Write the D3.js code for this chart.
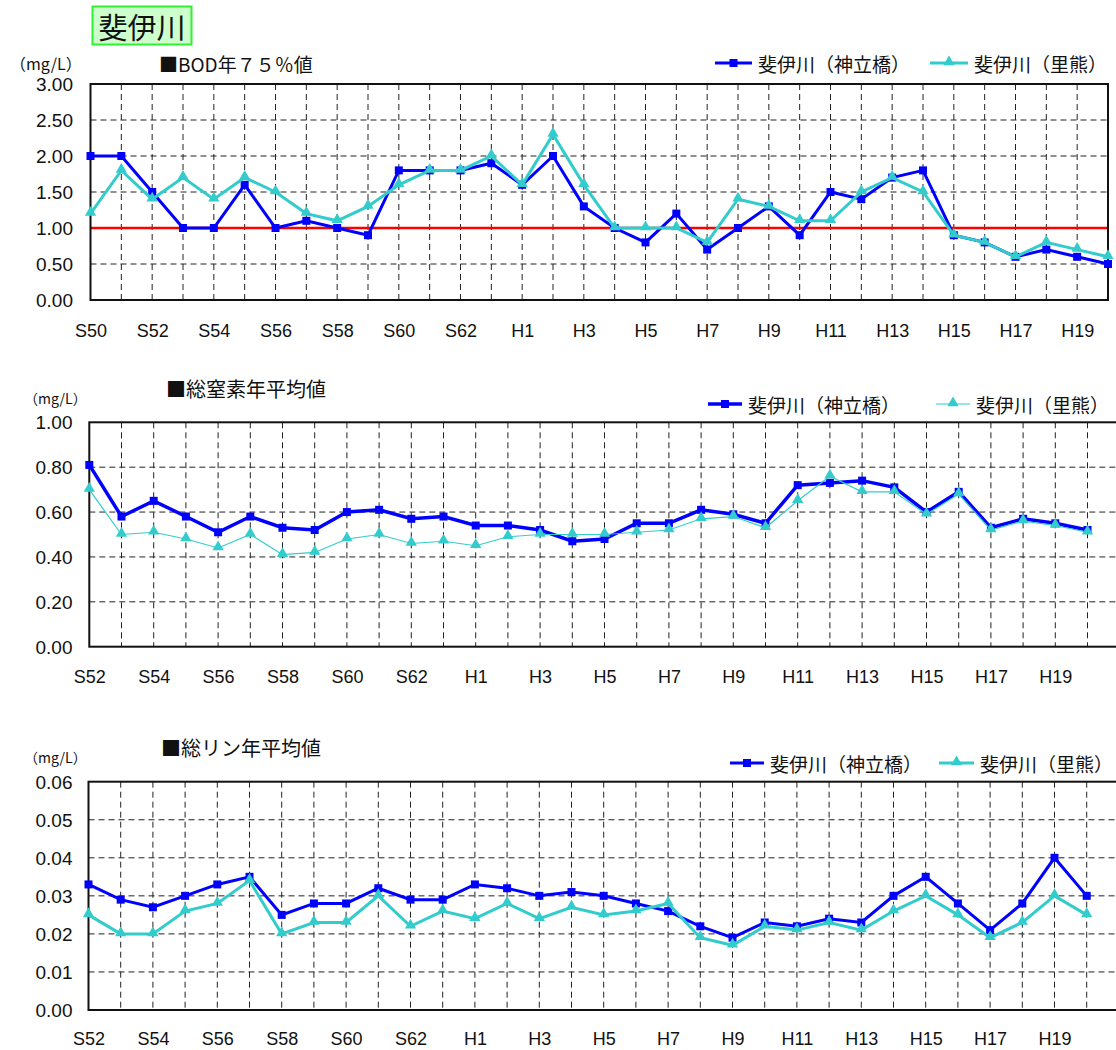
<!DOCTYPE html>
<html><head><meta charset="utf-8">
<script src="https://cdn.jsdelivr.net/npm/d3@7"></script>
<style>
body{margin:0;background:#fff;}
svg{display:block;}
</style></head>
<body>
<svg id="c" width="1116" height="1050"></svg>
<script>
// ---- Data ----
const categoriesBOD = ["S50","S51","S52","S53","S54","S55","S56","S57","S58","S59","S60","S61","S62","S63",
  "H1","H2","H3","H4","H5","H6","H7","H8","H9","H10","H11","H12","H13","H14","H15","H16","H17","H18","H19","H20"];
const categoriesNP = ["S52","S53","S54","S55","S56","S57","S58","S59","S60","S61","S62","S63",
  "H1","H2","H3","H4","H5","H6","H7","H8","H9","H10","H11","H12","H13","H14","H15","H16","H17","H18","H19","H20"];
const tickLabelsBOD = ["S50","S52","S54","S56","S58","S60","S62","H1","H3","H5","H7","H9","H11","H13","H15","H17","H19"];
const tickLabelsNP = ["S52","S54","S56","S58","S60","S62","H1","H3","H5","H7","H9","H11","H13","H15","H17","H19"];

const bodKandachi = [2.0,2.0,1.5,1.0,1.0,1.6,1.0,1.1,1.0,0.9,1.8,1.8,1.8,1.9,1.6,2.0,1.3,1.0,0.8,1.2,0.7,1.0,1.3,0.9,1.5,1.4,1.7,1.8,0.9,0.8,0.6,0.7,0.6,0.5];
const bodSatokuma = [1.2,1.8,1.4,1.7,1.4,1.7,1.5,1.2,1.1,1.3,1.6,1.8,1.8,2.0,1.6,2.3,1.6,1.0,1.0,1.0,0.8,1.4,1.3,1.1,1.1,1.5,1.7,1.5,0.9,0.8,0.6,0.8,0.7,0.6];
const tnKandachi = [0.81,0.58,0.65,0.58,0.51,0.58,0.53,0.52,0.60,0.61,0.57,0.58,0.54,0.54,0.52,0.47,0.48,0.55,0.55,0.61,0.59,0.55,0.72,0.73,0.74,0.71,0.60,0.69,0.53,0.57,0.55,0.52];
const tnSatokuma = [0.70,0.50,0.51,0.48,0.44,0.50,0.41,0.42,0.48,0.50,0.46,0.47,0.45,0.49,0.50,0.50,0.50,0.51,0.52,0.57,0.58,0.53,0.65,0.76,0.69,0.69,0.59,0.68,0.52,0.56,0.54,0.51];
const tpKandachi = [0.033,0.029,0.027,0.030,0.033,0.035,0.025,0.028,0.028,0.032,0.029,0.029,0.033,0.032,0.030,0.031,0.030,0.028,0.026,0.022,0.019,0.023,0.022,0.024,0.023,0.030,0.035,0.028,0.021,0.028,0.040,0.030];
const tpSatokuma = [0.025,0.020,0.020,0.026,0.028,0.034,0.020,0.023,0.023,0.030,0.022,0.026,0.024,0.028,0.024,0.027,0.025,0.026,0.028,0.019,0.017,0.022,0.021,0.023,0.021,0.026,0.030,0.025,0.019,0.023,0.030,0.025];

const seriesNames = ["斐伊川（神立橋）","斐伊川（里熊）"];
const riverName = "斐伊川";
const bodTicks = [0,0.5,1.0,1.5,2.0,2.5,3.0];
const tnTicks = [0,0.2,0.4,0.6,0.8,1.0];
const tpTicks = [0,0.01,0.02,0.03,0.04,0.05,0.06];
const bodStandard = 1.0;

// ---- Styles ----
const BLUE = "#0000ff", CYAN = "#33cccc", RED = "#ff0000";
const LATIN = "'Liberation Sans', Arial, 'Noto Sans CJK JP', sans-serif";
const CJK = "'Noto Sans CJK JP', sans-serif";

const svg = d3.select("#c");

// title box
svg.append("rect").attr("x",92.5).attr("y",6.5).attr("width",99).attr("height",38)
  .attr("fill","#ccffcc").attr("stroke","#33ee33").attr("stroke-width",2);
svg.append("text").attr("x",142).attr("y",26).attr("text-anchor","middle").attr("dominant-baseline","central")
  .attr("font-family",CJK).attr("font-size",29).attr("fill","#111").text(riverName);

function chart(o){
  const g = svg.append("g");
  const x = d3.scaleLinear().domain([0, o.slots]).range([o.left, o.right]);
  const y = d3.scaleLinear().domain([0, o.ymax]).range([o.bottom, o.top]);

  g.selectAll(".hg").data(o.yticks.slice(1, -1)).join("line")
    .attr("x1",o.left).attr("x2",o.right).attr("y1",d=>y(d)).attr("y2",d=>y(d))
    .attr("stroke","#222").attr("stroke-width",1).attr("stroke-dasharray","6,4");
  g.selectAll(".vg").data(d3.range(1, o.slots)).join("line")
    .attr("x1",d=>x(d)).attr("x2",d=>x(d)).attr("y1",o.top).attr("y2",o.bottom)
    .attr("stroke","#222").attr("stroke-width",1).attr("stroke-dasharray","6,4");

  if (o.standard != null){
    g.append("line").attr("x1",o.left).attr("x2",o.right).attr("y1",y(o.standard)).attr("y2",y(o.standard))
      .attr("stroke",RED).attr("stroke-width",2.5);
  }

  g.append("rect").attr("x",o.left).attr("y",o.top).attr("width",o.right-o.left).attr("height",o.bottom-o.top)
    .attr("fill","none").attr("stroke","#111").attr("stroke-width",2);

  const ya = d3.axisLeft(y).tickValues(o.yticks).tickFormat(d3.format(o.fmt)).tickSize(0).tickPadding(0);
  const yg = g.append("g").attr("transform",`translate(${o.ylabelX},0)`).call(ya);
  yg.select(".domain").remove();
  yg.selectAll("text").attr("font-family",LATIN).attr("font-size",19).attr("fill","#111").attr("dy","0.35em");

  const xa = d3.axisBottom(x).tickValues(o.tickLabels.map(t=>o.cats.indexOf(t)))
    .tickFormat(i=>o.cats[i]).tickSize(0).tickPadding(0);
  const xg = g.append("g").attr("transform",`translate(0,${o.xlabelY})`).call(xa);
  xg.select(".domain").remove();
  xg.selectAll("text").attr("font-family",LATIN).attr("font-size",18).attr("fill","#111").attr("dy","0.35em");

  const line = d3.line().x((d,i)=>x(i)).y(d=>y(d));
  const sq = o.sq;
  const triPath = d3.symbol().type(d3.symbolTriangle).size(o.tri)();
  g.append("path").datum(o.s1).attr("d",line).attr("fill","none").attr("stroke",BLUE).attr("stroke-width",o.w1);
  g.selectAll(".m1").data(o.s1).join("rect").attr("x",(d,i)=>x(i)-sq/2).attr("y",d=>y(d)-sq/2)
    .attr("width",sq).attr("height",sq).attr("fill",BLUE);
  g.append("path").datum(o.s2).attr("d",line).attr("fill","none").attr("stroke",CYAN).attr("stroke-width",o.w2);
  g.selectAll(".m2").data(o.s2).join("path").attr("d",triPath)
    .attr("transform",(d,i)=>`translate(${x(i)},${y(d)-1})`).attr("fill",CYAN);

  g.append("text").attr("x",o.titleX).attr("y",o.titleY).attr("dominant-baseline","central")
    .attr("font-family",CJK).attr("font-size",o.titleSize).attr("fill","#111").text(o.title);
  g.append("text").attr("x",o.unitX).attr("y",o.unitY).attr("dominant-baseline","central")
    .attr("font-family",CJK).attr("font-size",o.unitSize).attr("fill","#111").text("（mg/L）");

  const L = o.legend;
  g.append("line").attr("x1",L.b0).attr("x2",L.b1).attr("y1",L.y).attr("y2",L.y).attr("stroke",BLUE).attr("stroke-width",o.w1);
  g.append("rect").attr("x",(L.b0+L.b1)/2-sq/2).attr("y",L.y-sq/2).attr("width",sq).attr("height",sq).attr("fill",BLUE);
  g.append("text").attr("x",L.bt).attr("y",L.y).attr("dominant-baseline","central")
    .attr("font-family",CJK).attr("font-size",L.size).attr("fill","#111").text(seriesNames[0]);
  g.append("line").attr("x1",L.c0).attr("x2",L.c1).attr("y1",L.y).attr("y2",L.y).attr("stroke",CYAN).attr("stroke-width",o.w2);
  g.append("path").attr("d",triPath).attr("transform",`translate(${(L.c0+L.c1)/2},${L.y-1})`).attr("fill",CYAN);
  g.append("text").attr("x",L.ct).attr("y",L.y).attr("dominant-baseline","central")
    .attr("font-family",CJK).attr("font-size",L.size).attr("fill","#111").text(seriesNames[1]);
}

chart({cats:categoriesBOD, tickLabels:tickLabelsBOD, slots:33, left:90.5, right:1108, top:84, bottom:300,
  ymax:3, yticks:bodTicks, fmt:".2f", ylabelX:73, xlabelY:331, standard:bodStandard,
  s1:bodKandachi, s2:bodSatokuma, w1:3, w2:3, sq:8, tri:55,
  title:"■BOD年７５％値", titleX:159, titleY:63, titleSize:19, unitX:10, unitY:63, unitSize:16,
  legend:{y:63, b0:715, b1:752, bt:758, c0:930, c1:968, ct:974, size:19}});

chart({cats:categoriesNP, tickLabels:tickLabelsNP, slots:32, left:89.3, right:89.3+32*32.2, top:422.3, bottom:646.7,
  ymax:1, yticks:tnTicks, fmt:".2f", ylabelX:72.5, xlabelY:677, standard:null,
  s1:tnKandachi, s2:tnSatokuma, w1:3.5, w2:1.2, sq:8, tri:55,
  title:"■総窒素年平均値", titleX:166, titleY:388, titleSize:20, unitX:24, unitY:398, unitSize:14,
  legend:{y:404, b0:708, b1:742, bt:748, c0:936, c1:970, ct:976, size:19}});

chart({cats:categoriesNP, tickLabels:tickLabelsNP, slots:32, left:88.5, right:88.5+32*32.2, top:781.7, bottom:1010,
  ymax:0.06, yticks:tpTicks, fmt:".2f", ylabelX:72.5, xlabelY:1039, standard:null,
  s1:tpKandachi, s2:tpSatokuma, w1:3, w2:3, sq:8, tri:55,
  title:"■総リン年平均値", titleX:161, titleY:747, titleSize:20, unitX:24, unitY:757, unitSize:14,
  legend:{y:763, b0:730, b1:764, bt:770, c0:939, c1:974, ct:980, size:19}});
</script>
</body></html>
